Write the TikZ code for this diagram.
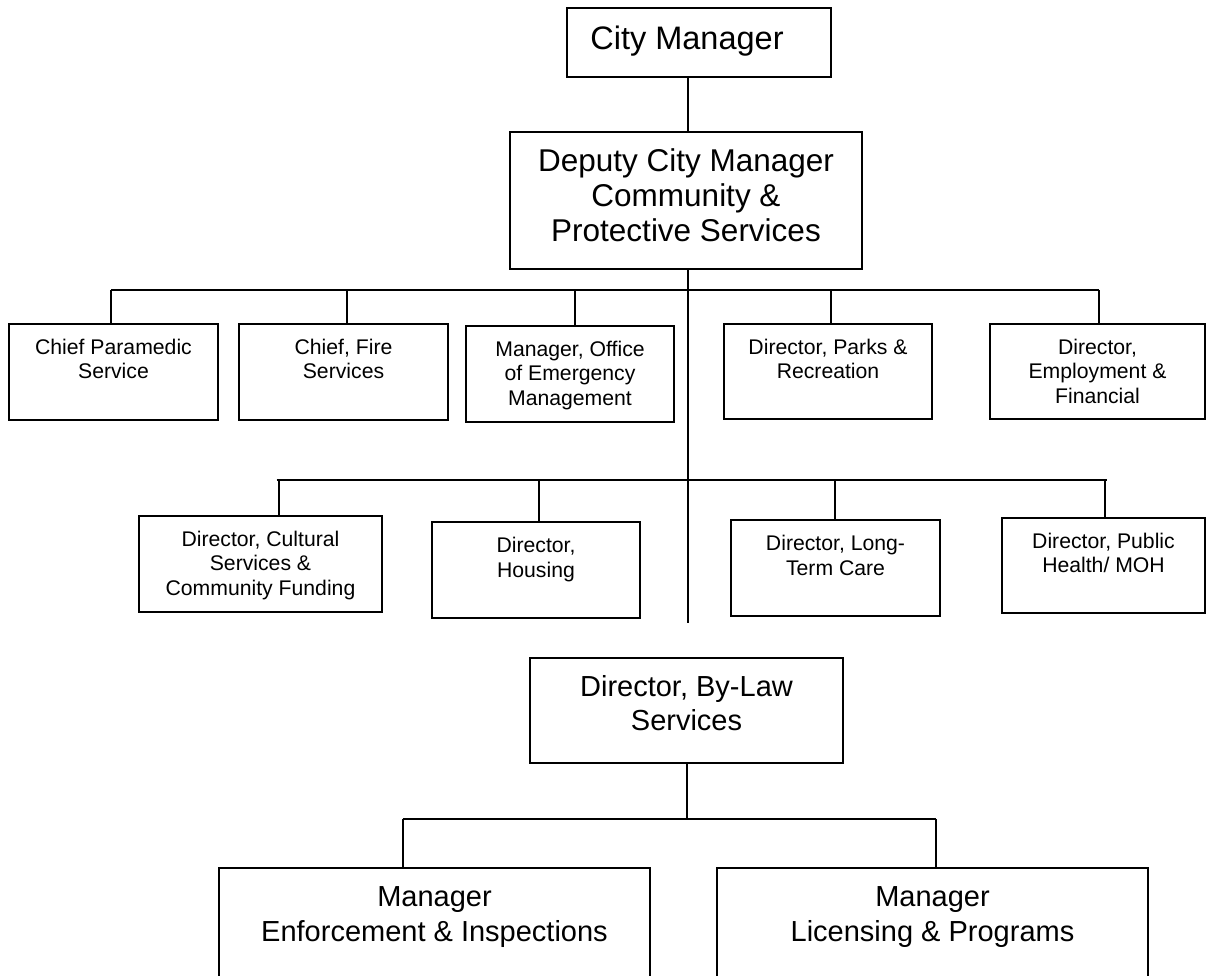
\documentclass[tikz,border=0pt]{standalone}
\usepackage{fontspec}
\setmainfont{Liberation Sans}

% font sizes (size / line distance, in pt)
\newcommand\fstop{\fontsize{32.5}{36}\selectfont}
\newcommand\fsdep{\fontsize{31.5}{35}\selectfont}
\newcommand\fsrow{\fontsize{21.2}{24.5}\selectfont}
\newcommand\fsmid{\fontsize{29}{34.5}\selectfont}

\tikzset{
  orgbox/.style={draw=black, line width=2.3pt, inner sep=0pt, outer sep=0pt},
  link/.style={draw=black, line width=2pt},
}

% \orgunit{name}{x1}{y1}{x2}{y2}{font}{top pad}{text}
\newcommand\orgunit[8]{%
  \pgfmathsetmacro\boxw{#4-#2}%
  \pgfmathsetmacro\boxh{#5-#3}%
  \node[orgbox, anchor=north west] (#1) at (#2,#3)
    {\parbox[c][\boxh pt][t]{\boxw pt}{\centering#6\vspace*{#7pt}#8\par}};%
}

% vertical drop from a bus line to a box, shifted sideways by #2
\newcommand\drop[3]{\draw[link] ([xshift=#2pt]#1.north |- #3) -- ([xshift=#2pt]#1.north);}

\begin{document}
\begin{tikzpicture}[x=1pt, y=-1pt]
\clip (0,0) rectangle (1206,975);
\fill[white] (0,0) rectangle (1206,975);

% top
\orgunit{cm}{567}{8}{831}{77}{\fstop}{17.5}{City Manager\hspace*{24pt}}
\orgunit{dep}{510}{132}{862}{269}{\fsdep}{16.5}{Deputy City Manager\\Community \&\\Protective Services}

% first row of reports
\orgunit{b1}{9}{324}{218}{420}{\fsrow}{15}{Chief Paramedic\\Service}
\orgunit{b2}{239}{324}{448}{420}{\fsrow}{15}{Chief, Fire\\Services}
\orgunit{b3}{466}{326}{674}{422}{\fsrow}{15}{Manager, Office\\of Emergency\\Management}
\orgunit{b4}{724}{324}{932}{419}{\fsrow}{15}{Director, Parks \&\\Recreation}
\orgunit{b5}{990}{324}{1205}{419}{\fsrow}{15}{Director,\\Employment \&\\Financial}

% second row of reports
\orgunit{b6}{139}{516}{382}{612}{\fsrow}{15}{Director, Cultural\\Services \&\\Community Funding}
\orgunit{b7}{432}{522}{640}{618}{\fsrow}{15.5}{Director,\\Housing}
\orgunit{b8}{731}{520}{940}{616}{\fsrow}{15.5}{Director, Long-\\Term Care}
\orgunit{b9}{1002}{518}{1205}{613}{\fsrow}{15}{Director, Public\\Health/ MOH}

% by-law branch
\orgunit{bl}{530}{658}{843}{763}{\fsmid}{17}{Director, By-Law\\Services}
\orgunit{en}{219}{868}{650}{992}{\fsmid}{19}{Manager\\Enforcement \& Inspections}
\orgunit{li}{717}{868}{1148}{992}{\fsmid}{19}{Manager\\Licensing \& Programs}

% spine and bus lines
\coordinate (spine) at (688,0);
\coordinate (spineend) at (688,623);
\coordinate (bus1) at (0,290);
\coordinate (bus2) at (0,480);
\coordinate (bus3) at (0,819);

\draw[link] (cm.south -| spine) -- (dep.north -| spine);
\draw[link] (dep.south -| spine) -- (spineend);

\draw[link] ([xshift=-2.5pt]b1.north |- bus1) -- ([xshift=1.5pt]b5.north |- bus1);
\drop{b1}{-2.5}{bus1}
\drop{b2}{3.5}{bus1}
\drop{b3}{5}{bus1}
\drop{b4}{3}{bus1}
\drop{b5}{1.5}{bus1}

\draw[link] ([xshift=16pt]b6.north |- bus2) -- ([xshift=3.5pt]b9.north |- bus2);
\drop{b6}{18.5}{bus2}
\drop{b7}{3}{bus2}
\drop{b8}{-0.5}{bus2}
\drop{b9}{1.5}{bus2}

\draw[link] (bl.south) -- (bl.south |- bus3);
\draw[link] ([xshift=-32pt]en.north |- bus3) -- ([xshift=3.5pt]li.north |- bus3);
\drop{en}{-32}{bus3}
\drop{li}{3.5}{bus3}
\end{tikzpicture}
\end{document}
